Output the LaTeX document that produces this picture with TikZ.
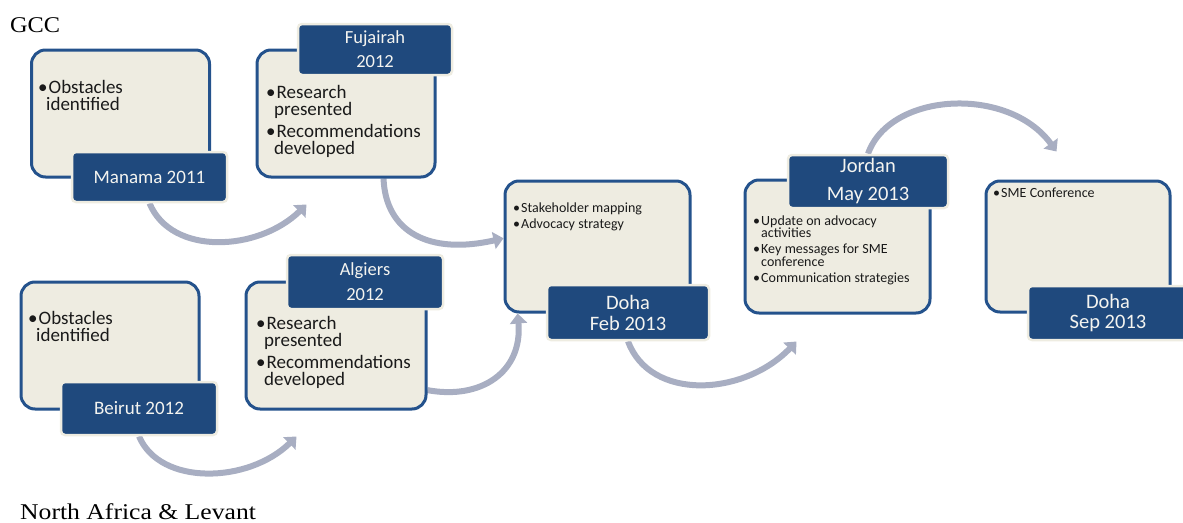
\documentclass[tikz,border=0pt]{standalone}
\usepackage{fontspec}
\setmainfont{Carlito}
\newfontfamily\serifA[FakeStretch=1.08]{Liberation Serif}
\newfontfamily\serifB[FakeStretch=1.14]{Liberation Serif}
\usetikzlibrary{arrows.meta,calc}
\pgfdeclarelayer{bg}
\pgfsetlayers{bg,main}
\definecolor{boxfill}{HTML}{EEECE1}
\definecolor{boxline}{HTML}{24528C}
\definecolor{labfill}{HTML}{1F497D}
\definecolor{arrowc}{HTML}{A8AEC2}
\definecolor{txt}{HTML}{1A1A1A}
\definecolor{labtxt}{HTML}{F4F4F0}
% #1 = hanging indent, #2 = bullet box width, #3 = text
\newcommand\bulitem[3]{\hangindent=#1\hangafter=1\noindent\makebox[#2][l]{•}\ignorespaces#3\par}
\newcommand\bigtxt{\fontsize{19}{17.5}\selectfont\setlength\parskip{4pt}}
\newcommand\smalltxt{\fontsize{14}{12.5}\selectfont\setlength\parskip{3.5pt}}
\newcommand\bigbul[1]{\bulitem{8pt}{10.5pt}{#1}}
\newcommand\smallbul[1]{\bulitem{8pt}{8pt}{#1}}
\tikzset{
  bx/.style={draw=boxline, fill=boxfill, line width=3pt, rounded corners=14pt, inner sep=0pt},
  lab/.style={draw=boxfill, fill=labfill, line width=2.5pt, rounded corners=4pt, text=labtxt, align=center, inner sep=0pt},
  bt/.style={anchor=base west, inner sep=0pt, text width=#1, align=left, text=txt},
  conn/.style={draw=arrowc, line width=6pt, -{Triangle[length=10pt,width=17pt]}},
  ttl/.style={anchor=base west, inner sep=0pt, text=black, font=\serifA\fontsize{22.5}{27}\selectfont}
}
\begin{document}
\begin{tikzpicture}[x=1pt,y=1pt]
\useasboundingbox (0,0) rectangle (1183,-522);
\clip (0,0) rectangle (1183,-522);

% titles
\node[ttl] (gcc) at (10,-32) {GCC};
\node[ttl, font=\serifB\fontsize{22.5}{27}\selectfont] (nal) at (20,-519) {North Africa \& Levant};

% boxes
\node[bx, minimum width=178pt, minimum height=127pt] (b1) at (120.5,-113.5) {};
\node[bx, minimum width=178pt, minimum height=127pt] (b2) at (346,-113.5) {};
\node[bx, minimum width=178pt, minimum height=127pt] (b3) at (110,-345.5) {};
\node[bx, minimum width=180pt, minimum height=127pt] (b4) at (336,-345.5) {};
\node[bx, minimum width=185pt, minimum height=131pt] (b5) at (597.5,-246.5) {};
\node[bx, minimum width=185pt, minimum height=133pt] (b6) at (837.5,-246.5) {};
\node[bx, minimum width=184pt, minimum height=131pt] (b7) at (1078,-246.5) {};

% box texts
\node[bt=165pt] (t1) at (38,-93) {\bigtxt\bigbul{Obstacles\newline identified}};
\node[bt=170pt] (t2) at (266,-98) {\bigtxt\bigbul{Research\newline presented}\bigbul{Recommendations\newline developed}};
\node[bt=165pt] (t3) at (28,-324) {\bigtxt\bigbul{Obstacles\newline identified}};
\node[bt=170pt] (t4) at (256,-329) {\bigtxt\bigbul{Research\newline presented}\bigbul{Recommendations\newline developed}};
\node[bt=170pt] (t5) at (513,-212) {\smalltxt\smallbul{Stakeholder mapping}\smallbul{Advocacy strategy}};
\node[bt=170pt] (t6) at (753,-225) {\smalltxt\smallbul{Update on advocacy\newline activities}\smallbul{Key messages for SME\newline conference}\smallbul{Communication strategies}};
\node[bt=170pt] (t7) at (993,-197) {\smalltxt\smallbul{SME Conference}};

% labels
\node[lab, minimum width=155pt, minimum height=50pt, font=\fontsize{19}{22}\selectfont] (l1) at (149.5,-177) {Manama 2011};
\node[lab, minimum width=154pt, minimum height=51pt, font=\fontsize{18.5}{24}\selectfont] (l2) at (375,-49.5) {Fujairah\\2012};
\node[lab, minimum width=156pt, minimum height=53pt, font=\fontsize{19}{22}\selectfont] (l3) at (139,-408.5) {Beirut 2012};
\node[lab, minimum width=156pt, minimum height=54pt, font=\fontsize{18.5}{25}\selectfont] (l4) at (365,-282) {Algiers\\2012};
\node[lab, minimum width=162pt, minimum height=55pt, font=\fontsize{20.5}{21}\selectfont] (l5) at (628,-312.5) {Doha\\Feb 2013};
\node[lab, minimum width=160pt, minimum height=53pt, font=\fontsize{20.5}{28}\selectfont] (l6) at (868,-181.5) {Jordan\\May 2013};
\node[lab, minimum width=160pt, minimum height=54pt, font=\fontsize{20.5}{20}\selectfont] (l7) at (1108,-313) {Doha\\Sep 2013};

% free ends
\coordinate (e1) at ($(b2.south west)+(51,-26)$);
\coordinate (e3) at ($(b4.south west)+(52,-26)$);
\coordinate (e5) at ($(b6.south west)+(53,-27)$);
\coordinate (e6) at ($(b7.north west)+(72,28)$);

% connectors
\begin{pgfonlayer}{bg}
\draw[conn] (l1.south) .. controls +(22,-53) and +(-48,-47) .. (e1);
\draw[conn] (b2.-60) .. controls +(2,-53) and +(-75,-17) .. (b5.175);
\draw[conn] (l3.south) .. controls +(21,-50) and +(-48,-47) .. (e3);
\draw[conn] (b4.-26.3) .. controls +(54,-10) and +(5,-58) .. (b5.220.2);
\draw[conn] (l5.south) .. controls +(22,-60) and +(-53,-55) .. (e5);
\draw[conn] (l6.north) .. controls +(22,62) and +(-48,66) .. (e6);
\end{pgfonlayer}
\end{tikzpicture}
\end{document}
